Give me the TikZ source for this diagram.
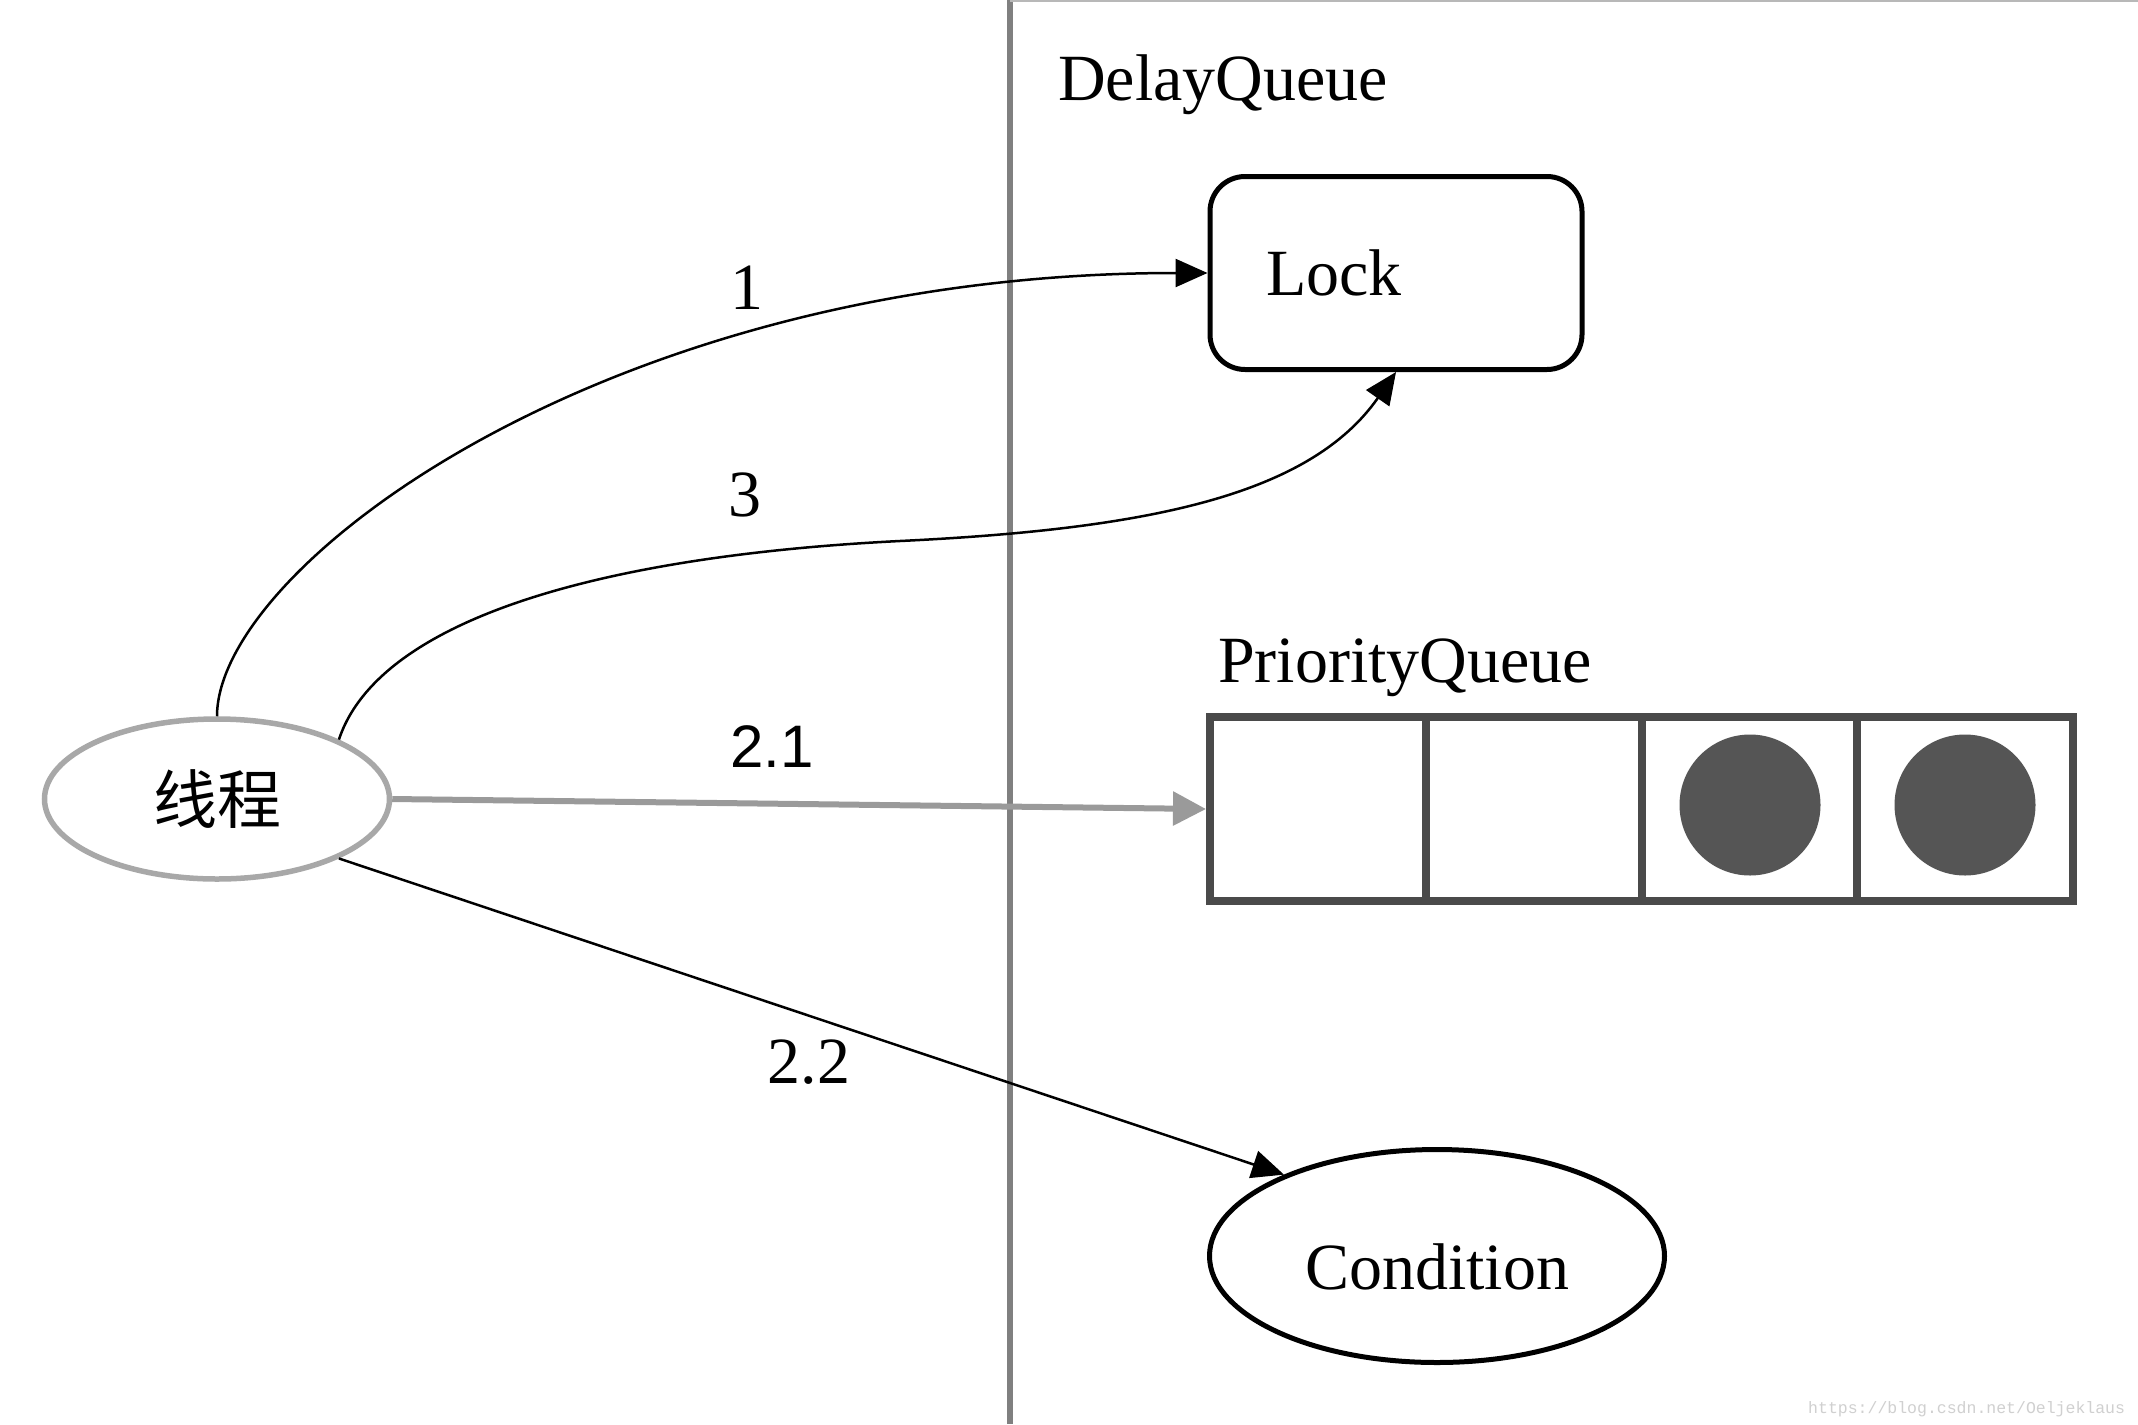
\documentclass[tikz,border=0pt]{standalone}
\usepackage{fontspec}
\setmainfont{Liberation Serif}
\newfontfamily\cjkfont{Noto Sans CJK SC}
\newfontfamily\labelsans{Liberation Sans}
\newfontfamily\wmfont{Liberation Mono}
\usetikzlibrary{arrows.meta,shapes.geometric}
\definecolor{dividergray}{HTML}{808080}
\definecolor{threadgray}{HTML}{A8A8A8}
\definecolor{cellgray}{HTML}{4A4A4A}
\definecolor{ballgray}{HTML}{555555}
\definecolor{arrowgray}{HTML}{9A9A9A}
\definecolor{wmgray}{HTML}{D0D0D0}
\definecolor{topgray}{HTML}{B8B8B8}
\begin{document}
\begin{tikzpicture}[x=1pt,y=-1pt,
  bigtext/.style={font=\fontsize{66pt}{70pt}\selectfont, inner sep=0pt},
  conn/.style={line width=2.5pt, -{Triangle[length=32pt,width=28pt]}},
  cell/.style={draw=cellgray, line width=8pt, minimum width=215.75pt, minimum height=184pt, inner sep=0pt},
  ball/.style={circle, fill=ballgray, minimum size=141pt, inner sep=0pt},
  ]
\useasboundingbox (0,0) rectangle (2138,1424);
\fill[white] (0,0) rectangle (2138,1424);

% separators
\coordinate (vtop) at (1010,0);
\coordinate (vbot) at (1010,1424);
\coordinate (htopr) at (2138,1);
\coordinate (htopl) at (1010,1);
\draw[dividergray, line width=6pt] (vtop) -- (vbot);
\draw[topgray, line width=2pt] (htopl) -- (htopr);

% thread
\node[ellipse, draw=threadgray, line width=5.5pt, minimum width=345pt, minimum height=160pt, inner sep=0pt,
      font=\cjkfont\fontsize{64pt}{68pt}\selectfont] (thread) at (217,799) {线程};

% DelayQueue side
\node[bigtext, anchor=base west] (dq) at (1058,100) {DelayQueue};
\node[draw, line width=5pt, rounded corners=35pt, minimum width=372pt, minimum height=193pt,
      text width=260pt, align=left, inner xsep=56pt, inner ysep=0pt,
      font=\fontsize{66pt}{70pt}\selectfont] (lock) at (1396,273) {Lock};

\node[bigtext, anchor=base west] (pq) at (1218,682) {PriorityQueue};
\node[cell] (q1) at (1317.875,809) {};
\node[cell] (q2) at (1533.625,809) {};
\node[cell] (q3) at (1749.375,809) {};
\node[cell] (q4) at (1965.125,809) {};
\node[ball] (b3) at (1750,805) {};
\node[ball] (b4) at (1965,805) {};

\node[ellipse, draw, line width=5pt, minimum width=455pt, minimum height=213pt, inner sep=0pt,
      text height=67pt, text depth=0pt,
      font=\fontsize{66pt}{70pt}\selectfont] (cond) at (1437,1256) {Condition};

% connectors
\coordinate (m3) at (900,541);
\draw[conn] (thread.north) .. controls +(0,-150) and +(-600,0) .. (lock.west);
\draw[conn] (thread.26) .. controls +(40,-120) and +(-300,15) .. (m3)
            .. controls +(250,-12) and +(-86,123) .. (lock.south);
\draw[arrowgray, line width=6pt, -{Triangle[length=33pt,width=33pt]}] (thread.east) -- (q1.west);
\draw[conn] (thread.-26) -- (cond.152);

% labels
\node[bigtext] (l1) at (747,288) {1};
\node[bigtext] (l3) at (745,495) {3};
\node[font=\labelsans\fontsize{60pt}{64pt}\selectfont, inner sep=0pt] (l21) at (772,747) {2.1};
\node[bigtext] (l22) at (809,1062) {2.2};

% watermark
\node[anchor=base west, text=wmgray, inner sep=0pt, font=\wmfont\fontsize{16.5pt}{18pt}\selectfont] (wm) at (1808,1413) {https://blog.csdn.net/Oeljeklaus};
\end{tikzpicture}
\end{document}
